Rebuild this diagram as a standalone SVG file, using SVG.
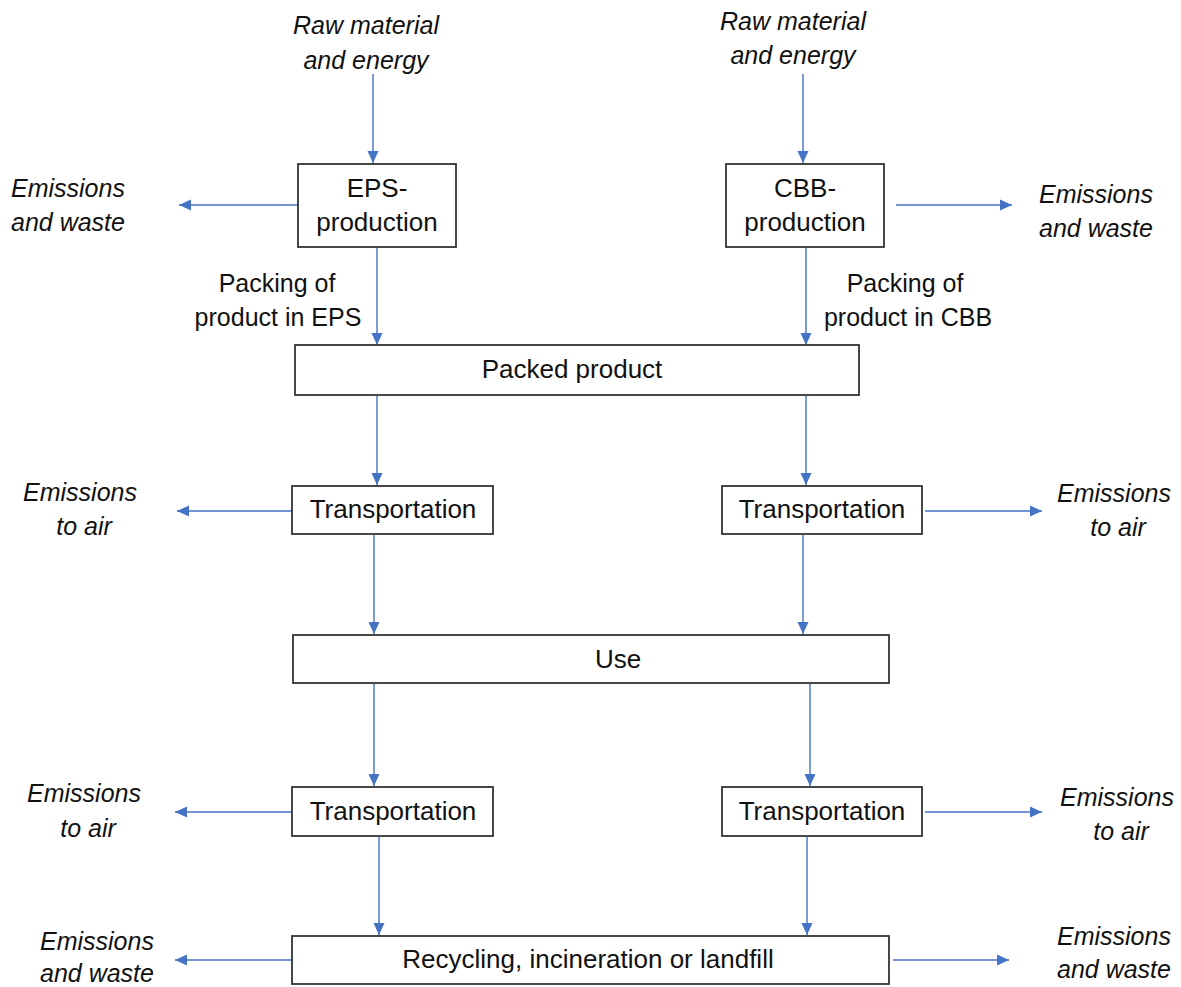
<svg xmlns="http://www.w3.org/2000/svg" width="1181" height="987" viewBox="0 0 1181 987">
<style>
.box{fill:#fff;stroke:#333;stroke-width:1.8}
.lbl{font-family:"Liberation Sans",Arial,sans-serif;font-size:26px;fill:#111;text-anchor:middle}
.pk{font-family:"Liberation Sans",Arial,sans-serif;font-size:25px;fill:#111;text-anchor:middle}
.it{font-family:"Liberation Sans",Arial,sans-serif;font-size:25px;font-style:italic;fill:#111}
.c{text-anchor:middle}
.s{text-anchor:start}
.ar{stroke:#4472C4;stroke-width:1.4;fill:none;marker-end:url(#ah)}
</style>
<defs>
<marker id="ah" markerUnits="userSpaceOnUse" markerWidth="12" markerHeight="12" viewBox="0 0 12 12" refX="12" refY="6" orient="auto">
<path d="M0,0.5 L12,6 L0,11.5 Z" fill="#4472C4"/>
</marker>
</defs>
<rect width="1181" height="987" fill="#fff"/>

<g id="connectors">
<line class="ar" x1="373" y1="74" x2="373" y2="163"/>
<line class="ar" x1="803" y1="74" x2="803" y2="163"/>
<line class="ar" x1="298" y1="205" x2="179" y2="205"/>
<line class="ar" x1="896" y1="205" x2="1012" y2="205"/>
<line class="ar" x1="377" y1="248" x2="377" y2="345"/>
<line class="ar" x1="806" y1="248" x2="806" y2="345"/>
<line class="ar" x1="377" y1="396" x2="377" y2="485"/>
<line class="ar" x1="806" y1="396" x2="806" y2="485"/>
<line class="ar" x1="292" y1="511" x2="177" y2="511"/>
<line class="ar" x1="925" y1="511" x2="1042" y2="511"/>
<line class="ar" x1="374" y1="535" x2="374" y2="634"/>
<line class="ar" x1="803" y1="535" x2="803" y2="634"/>
<line class="ar" x1="374" y1="684" x2="374" y2="786"/>
<line class="ar" x1="810" y1="684" x2="810" y2="786"/>
<line class="ar" x1="292" y1="812" x2="175" y2="812"/>
<line class="ar" x1="925" y1="812" x2="1042" y2="812"/>
<line class="ar" x1="379" y1="837" x2="379" y2="935"/>
<line class="ar" x1="807" y1="837" x2="807" y2="935"/>
<line class="ar" x1="292" y1="960" x2="175" y2="960"/>
<line class="ar" x1="893" y1="960" x2="1009" y2="960"/>
</g>

<g id="raw-left">
<text class="it c" x="366" y="34">Raw material</text>
<text class="it c" x="366" y="69">and energy</text>
</g>
<g id="raw-right">
<text class="it c" x="793" y="30">Raw material</text>
<text class="it c" x="793" y="64">and energy</text>
</g>

<g id="eps-production">
<rect class="box" x="298" y="164" width="158" height="83"/>
<text class="lbl" x="377" y="197">EPS-</text>
<text class="lbl" x="377" y="231">production</text>
</g>
<g id="cbb-production">
<rect class="box" x="726" y="164" width="158" height="83"/>
<text class="lbl" x="805" y="197">CBB-</text>
<text class="lbl" x="805" y="231">production</text>
</g>

<g id="emis-waste-top-left">
<text class="it s" x="11" y="197">Emissions</text>
<text class="it s" x="11" y="231">and waste</text>
</g>
<g id="emis-waste-top-right">
<text class="it s" x="1039" y="203">Emissions</text>
<text class="it s" x="1039" y="237">and waste</text>
</g>

<g id="packing-eps">
<text class="pk" x="277" y="292">Packing of</text>
<text class="pk" x="278" y="326">product in EPS</text>
</g>
<g id="packing-cbb">
<text class="pk" x="905" y="292">Packing of</text>
<text class="pk" x="908" y="326">product in CBB</text>
</g>

<g id="packed-product">
<rect class="box" x="295" y="345" width="564" height="50"/>
<text class="lbl" x="572" y="378">Packed product</text>
</g>

<g id="transport-1-left">
<rect class="box" x="292" y="486" width="201" height="48"/>
<text class="lbl" x="393" y="518">Transportation</text>
</g>
<g id="transport-1-right">
<rect class="box" x="722" y="486" width="200" height="48"/>
<text class="lbl" x="822" y="518">Transportation</text>
</g>
<g id="emis-air-1-left">
<text class="it c" x="80" y="501">Emissions</text>
<text class="it c" x="84" y="535">to air</text>
</g>
<g id="emis-air-1-right">
<text class="it c" x="1114" y="502">Emissions</text>
<text class="it c" x="1118" y="536">to air</text>
</g>

<g id="use">
<rect class="box" x="293" y="635" width="596" height="48"/>
<text class="lbl" x="618" y="668">Use</text>
</g>

<g id="transport-2-left">
<rect class="box" x="292" y="787" width="201" height="49"/>
<text class="lbl" x="393" y="820">Transportation</text>
</g>
<g id="transport-2-right">
<rect class="box" x="722" y="787" width="200" height="49"/>
<text class="lbl" x="822" y="820">Transportation</text>
</g>
<g id="emis-air-2-left">
<text class="it c" x="84" y="802">Emissions</text>
<text class="it c" x="88" y="837">to air</text>
</g>
<g id="emis-air-2-right">
<text class="it c" x="1117" y="806">Emissions</text>
<text class="it c" x="1121" y="840">to air</text>
</g>

<g id="recycling">
<rect class="box" x="292" y="936" width="597" height="48"/>
<text class="lbl" x="588" y="968">Recycling, incineration or landfill</text>
</g>
<g id="emis-waste-bottom-left">
<text class="it s" x="40" y="950">Emissions</text>
<text class="it s" x="40" y="982">and waste</text>
</g>
<g id="emis-waste-bottom-right">
<text class="it s" x="1057" y="945">Emissions</text>
<text class="it s" x="1057" y="978">and waste</text>
</g>
</svg>
